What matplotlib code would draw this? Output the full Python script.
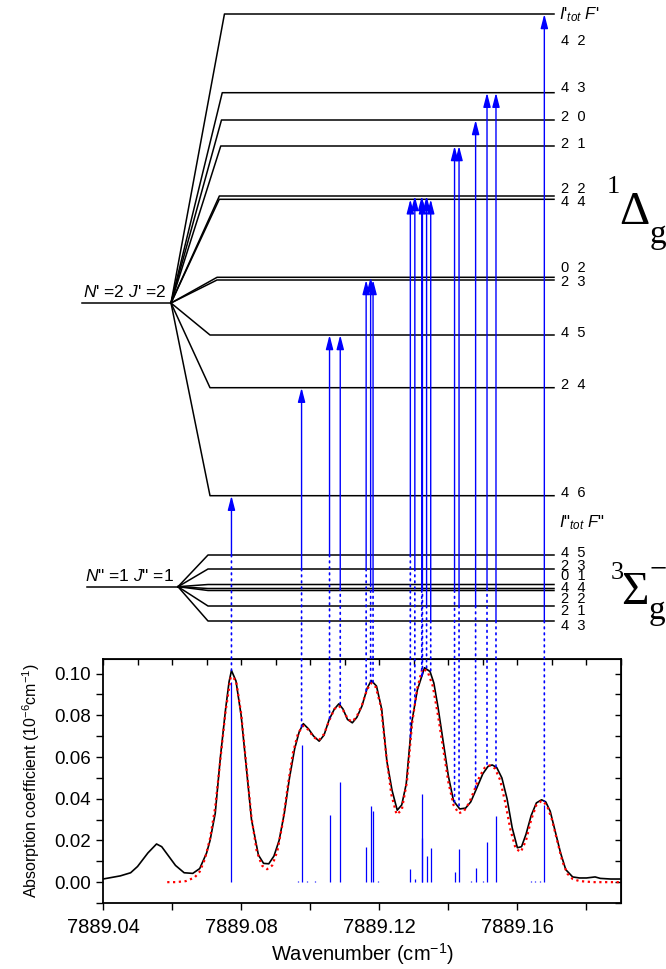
import numpy as np
import matplotlib
matplotlib.use("Agg")
import matplotlib.pyplot as plt
from matplotlib.patches import ConnectionPatch
from matplotlib.ticker import MultipleLocator, FormatStrFormatter

plt.rcParams['font.family'] = ['Liberation Sans', 'DejaVu Sans']
plt.rcParams['mathtext.fontset'] = 'custom'
plt.rcParams['mathtext.rm'] = 'Liberation Sans'
plt.rcParams['mathtext.it'] = 'Liberation Sans:italic'

# ---------------- data ----------------
meas_wn = [7889.040, 7889.045, 7889.048, 7889.050, 7889.053, 7889.0555, 7889.057, 7889.059,
           7889.061, 7889.0635, 7889.066, 7889.068, 7889.070, 7889.071, 7889.0725, 7889.074,
           7889.0755, 7889.0765, 7889.0772, 7889.0785, 7889.0800, 7889.0815, 7889.083, 7889.085,
           7889.0865, 7889.088, 7889.0895, 7889.091, 7889.0925, 7889.094, 7889.0955, 7889.0968,
           7889.0980, 7889.0995, 7889.1010, 7889.1026, 7889.1040, 7889.1055, 7889.1070, 7889.1083,
           7889.1095, 7889.1108, 7889.1122, 7889.1135, 7889.1150, 7889.1165, 7889.1177, 7889.1192,
           7889.1207, 7889.1222, 7889.1237, 7889.1252, 7889.1265, 7889.1278, 7889.1294, 7889.1310,
           7889.1331, 7889.1347, 7889.1358, 7889.1370, 7889.1380, 7889.1400, 7889.1415, 7889.1433,
           7889.1450, 7889.1465, 7889.1482, 7889.1500, 7889.1515, 7889.1527, 7889.1540, 7889.1555,
           7889.1570, 7889.1585, 7889.1600, 7889.1612, 7889.1625, 7889.1640, 7889.1655, 7889.1670,
           7889.1682, 7889.1695, 7889.1710, 7889.1725, 7889.1740, 7889.1760, 7889.1780, 7889.1800,
           7889.1825, 7889.1840, 7889.1870, 7889.1900]
meas_val = [0.0015, 0.0030, 0.0045, 0.0075, 0.0140, 0.0183, 0.0170, 0.0125,
            0.0080, 0.0045, 0.0042, 0.0065, 0.0140, 0.0200, 0.0330, 0.0600,
            0.0830, 0.0960, 0.1015, 0.0965, 0.0800, 0.0550, 0.0300, 0.0130,
            0.0090, 0.0088, 0.0125, 0.0200, 0.0330, 0.0500, 0.0640, 0.0720,
            0.0760, 0.0735, 0.0700, 0.0676, 0.0705, 0.0780, 0.0830, 0.0855,
            0.0830, 0.0780, 0.0764, 0.0790, 0.0845, 0.0930, 0.0967, 0.0940,
            0.0830, 0.0580, 0.0440, 0.0345, 0.0370, 0.0470, 0.0765, 0.0920,
            0.1028, 0.1010, 0.0955, 0.0840, 0.0730, 0.0510, 0.0390, 0.0351,
            0.0355, 0.0385, 0.0450, 0.0520, 0.0555, 0.0562, 0.0550, 0.0500,
            0.0400, 0.0260, 0.0165, 0.0170, 0.0230, 0.0320, 0.0380, 0.0395,
            0.0385, 0.0340, 0.0240, 0.0140, 0.0060, 0.0025, 0.0020, 0.0020,
            0.0025, 0.0018, 0.0015, 0.0015]

fit_wn = [7889.0586, 7889.061, 7889.064, 7889.0665, 7889.068, 7889.0695, 7889.071, 7889.0725,
          7889.074, 7889.0755, 7889.077, 7889.0785, 7889.080, 7889.0815, 7889.083, 7889.0845,
          7889.086, 7889.0875, 7889.089, 7889.0905, 7889.092, 7889.0935, 7889.095, 7889.0965,
          7889.098, 7889.0995, 7889.101, 7889.1025, 7889.104, 7889.1055, 7889.107, 7889.1083,
          7889.1095, 7889.111, 7889.1122, 7889.1135, 7889.115, 7889.1165, 7889.1177, 7889.119,
          7889.1205, 7889.122, 7889.1235, 7889.125, 7889.1265, 7889.128, 7889.1295, 7889.131,
          7889.1325, 7889.134, 7889.1355, 7889.137, 7889.1385, 7889.140, 7889.1415, 7889.143,
          7889.1445, 7889.146, 7889.1475, 7889.149, 7889.1505, 7889.152, 7889.1535, 7889.155,
          7889.1565, 7889.158, 7889.1595, 7889.161, 7889.1625, 7889.164, 7889.1655, 7889.167,
          7889.1685, 7889.170, 7889.1715, 7889.173, 7889.1745, 7889.176, 7889.178, 7889.182,
          7889.190]
fit_val = [0.0000, 0.0000, 0.0005, 0.0022, 0.0050, 0.0110, 0.0210, 0.0360,
           0.0590, 0.0820, 0.0985, 0.0970, 0.0810, 0.0560, 0.0310, 0.0150,
           0.0080, 0.0062, 0.0080, 0.0150, 0.0280, 0.0460, 0.0620, 0.0715,
           0.0750, 0.0730, 0.0695, 0.0680, 0.0710, 0.0775, 0.0830, 0.0845,
           0.0825, 0.0780, 0.0770, 0.0795, 0.0850, 0.0925, 0.0955, 0.0935,
           0.0840, 0.0610, 0.0420, 0.0325, 0.0345, 0.0480, 0.0760, 0.0930,
           0.1025, 0.1010, 0.0940, 0.0800, 0.0640, 0.0480, 0.0370, 0.0330,
           0.0340, 0.0380, 0.0440, 0.0505, 0.0548, 0.0560, 0.0545, 0.0490,
           0.0380, 0.0250, 0.0160, 0.0145, 0.0200, 0.0300, 0.0370, 0.0390,
           0.0370, 0.0300, 0.0200, 0.0100, 0.0040, 0.0015, 0.0005, 0.0000,
           0.0000]

# hyperfine levels (label "I_tot F") and schematic energies (arbitrary units)
upper_names = ['4 2', '4 3', '2 0', '2 1', '2 2', '4 4', '0 2', '2 3', '4 5', '2 4', '4 6']
upper_energy = [289.0, 210.3, 183.0, 157.0, 107.0, 103.7, 25.7, 23.0, -32.0, -84.7, -192.7]
lower_names = ['4 5', '2 3', '0 1', '4 4', '2 2', '2 1', '4 3']
lower_energy = [31.7, 17.7, 2.2, -1.8, -3.8, -19.3, -34.3]

# transitions: position, intensity, upper level, lower level
trans_wn = [7889.0772, 7889.0975, 7889.1056, 7889.1087, 7889.1162, 7889.1175, 7889.1182,
            7889.1290, 7889.1303, 7889.1323, 7889.1325, 7889.1337, 7889.1349, 7889.1418,
            7889.1431, 7889.1479, 7889.1512, 7889.1538, 7889.1678]
trans_int = [0.096, 0.066, 0.032, 0.048, 0.017, 0.0367, 0.0343,
             0.0063, 0.0017, 0.0425, 0.021, 0.0124, 0.0164, 0.005,
             0.0161, 0.0068, 0.0191, 0.0319, 0.037]
trans_up = ['4 6', '2 4', '4 5', '4 5', '2 3', '0 2', '2 3',
            '4 4', '2 2', '2 2', '4 4', '2 2', '4 4', '2 1',
            '2 1', '2 0', '4 3', '4 3', '4 2']
trans_low = ['4 5', '2 3', '4 5', '4 4', '2 3', '0 1', '2 2',
             '4 5', '2 3', '2 2', '4 4', '2 1', '4 3', '2 2',
             '2 1', '2 1', '4 4', '4 3', '4 3']

weak_wn = [7889.0965, 7889.0992, 7889.1015, 7889.1195, 7889.1465, 7889.1500,
           7889.1640, 7889.1652, 7889.1664]
weak_int = [0.0006, 0.0006, 0.0006, 0.0006, 0.0006, 0.0006, 0.0006, 0.0006, 0.0006]

x_ticks = [7889.04, 7889.08, 7889.12, 7889.16]
y_ticks = [0.00, 0.02, 0.04, 0.06, 0.08, 0.10]

# ---------------- layout ----------------
W_PX, H_PX = 666, 969
AX_L, AX_R, AX_T, AX_B = 103, 621, 659, 903
XMIN, XMAX = 7889.04, 7889.19
YMIN, YMAX = -0.01, 0.107
scale = (XMAX - XMIN) / (AX_R - AX_L)


def px2w(px):
    return XMIN + (px - AX_L) * scale


fig = plt.figure(figsize=(W_PX / 100, H_PX / 100), dpi=100)

axd = fig.add_axes([0, 0, 1, 1])
axd.set_xlim(px2w(0), px2w(W_PX))
axd.set_ylim(H_PX, 0)
axd.axis('off')

ax = fig.add_axes([AX_L / W_PX, 1 - AX_B / H_PX, (AX_R - AX_L) / W_PX, (AX_B - AX_T) / H_PX])
ax.patch.set_alpha(0)

UP_CX, UP_CY = 171, 303
LO_CX, LO_CY = 178, 586.7
LEVEL_END = 554
LABEL_X = 561

up_y = {n: UP_CY - e for n, e in zip(upper_names, upper_energy)}
lo_y = {n: LO_CY - e for n, e in zip(lower_names, lower_energy)}

lw_lev = 1.1
axd.plot([px2w(82), px2w(UP_CX)], [UP_CY, UP_CY], color='black', lw=lw_lev)
for n in upper_names:
    y = up_y[n]
    kx = 217 + 0.028 * (280 - y) if y < UP_CY else 210
    axd.plot([px2w(UP_CX), px2w(kx), px2w(LEVEL_END)], [UP_CY, y, y], color='black', lw=lw_lev)
axd.plot([px2w(87), px2w(LO_CX)], [LO_CY, LO_CY], color='black', lw=lw_lev)
for n in lower_names:
    y = lo_y[n]
    axd.plot([px2w(LO_CX), px2w(208), px2w(LEVEL_END)], [LO_CY, y, y], color='black', lw=lw_lev)

up_label_y = [40.7, 88.3, 116.7, 144, 189, 201.7, 268.3, 281.7, 333.3, 385, 492.7]
lo_label_y = [552.7, 565.5, 576.0, 587.5, 599.0, 611.0, 626.5]
for n, ly in zip(upper_names, up_label_y):
    axd.text(px2w(LABEL_X), ly, n.replace(' ', '  '), fontsize=10.5, va='center', ha='left')
for n, ly in zip(lower_names, lo_label_y):
    axd.text(px2w(LABEL_X), ly, n.replace(' ', '  '), fontsize=10.5, va='center', ha='left')

axd.text(px2w(559), 15, r"$I$'$_{tot}$ $F$'", fontsize=12, va='center', ha='left')
axd.text(px2w(559), 523, r'$I$"$_{tot}$ $F$"', fontsize=12, va='center', ha='left')

axd.text(px2w(166), UP_CY - 3, r"$N$' =2 $J$' =2", fontsize=12.5, va='bottom', ha='right')
axd.text(px2w(174), LO_CY - 3, r'$N$" =1 $J$" =1', fontsize=12.5, va='bottom', ha='right')

serif = ['Liberation Serif', 'DejaVu Serif']
axd.text(px2w(607), 193, '1', fontsize=19, family=serif, ha='left', va='baseline')
axd.text(px2w(619), 224, '\u0394', fontsize=34, family=serif, ha='left', va='baseline')
axd.text(px2w(650), 243, 'g', fontsize=24, family=serif, ha='left', va='baseline')

axd.text(px2w(611), 579, '3', fontsize=19, family=serif, ha='left', va='baseline')
axd.text(px2w(621), 604, '\u03a3', fontsize=34, family=serif, ha='left', va='baseline')
axd.text(px2w(650), 577, '\u2212', fontsize=22, family=serif, ha='left', va='baseline')
axd.text(px2w(649), 619, 'g', fontsize=24, family=serif, ha='left', va='baseline')

for w, up, lo in zip(trans_wn, trans_up, trans_low):
    axd.annotate('', xy=(w, up_y[up]), xytext=(w, lo_y[lo]),
                 arrowprops=dict(arrowstyle='-|>,head_length=0.85,head_width=0.22',
                                 color='blue', lw=1.0, shrinkA=0, shrinkB=0,
                                 mutation_scale=10))
    v = float(np.interp(w, meas_wn, meas_val))
    con = ConnectionPatch(xyA=(w, lo_y[lo]), coordsA=axd.transData,
                          xyB=(w, v), coordsB=ax.transData,
                          color='blue', lw=1.2, linestyle=(0, (1, 2.6)))
    fig.add_artist(con)

# ---------------- spectrum ----------------
ax.vlines(trans_wn, 0, trans_int, color='blue', lw=0.9)
ax.vlines(weak_wn, 0, weak_int, color='blue', lw=0.9)
ax.plot(meas_wn, meas_val, color='black', lw=1.2)
ax.plot(fit_wn, fit_val, color='red', lw=1.6, linestyle=(0, (1, 1.6)))

ax.set_xlim(XMIN, XMAX)
ax.set_ylim(YMIN, YMAX)
ax.set_xticks(x_ticks)
ax.set_yticks(y_ticks)
ax.xaxis.set_major_formatter(FormatStrFormatter('%.2f'))
ax.yaxis.set_major_formatter(FormatStrFormatter('%.2f'))
ax.xaxis.set_minor_locator(MultipleLocator(0.02))
ax.yaxis.set_minor_locator(MultipleLocator(0.01))
ax.tick_params(which='both', direction='out', width=1.0, length=5)
ax.tick_params(axis='x', labelsize=14.5, pad=6)
ax.tick_params(axis='y', labelsize=13.5)
for s in ax.spines.values():
    s.set_linewidth(1.3)

secx = ax.secondary_xaxis('top')
secx.xaxis.set_major_locator(MultipleLocator(0.01))
secx.tick_params(direction='in', length=4, width=1.0, labeltop=False)
secy = ax.secondary_yaxis('right')
secy.yaxis.set_major_locator(MultipleLocator(0.01))
secy.tick_params(direction='in', length=4, width=1.0, labelright=False)

ax.set_xlabel('Wavenumber (cm$^{-1}$)', fontsize=14.5, labelpad=3)
ax.set_ylabel('Absorption coefficient (10$^{-6}$cm$^{-1}$)', fontsize=11.5, labelpad=9)

fig.savefig('out.png', dpi=100)
